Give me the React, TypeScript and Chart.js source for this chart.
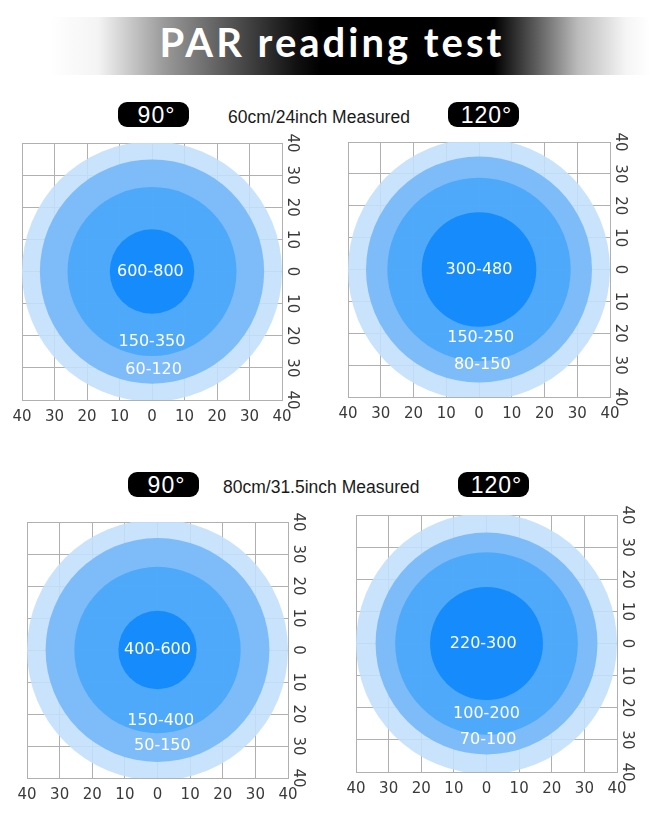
import React, { useEffect, useRef } from "react";
import { Chart, registerables } from "chart.js";
Chart.register(...registerables);

// ---------- data ----------
const axisTicks = [-40, -30, -20, -10, 0, 10, 20, 30, 40];
const xTickLabels = ["40", "30", "20", "10", "0", "10", "20", "30", "40"];
const yTickLabels = ["40", "30", "20", "10", "0", "10", "20", "30", "40"]; // bottom -> top

// ring radii (cm), outer -> inner
const rings90at60 = [40, 34.5, 26, 13];
const rings120at60 = [40, 34.5, 28, 17.5];
const rings90at80 = [40, 34.3, 25.5, 12];
const rings120at80 = [40, 34, 28, 17.3];

// PAR readings (centre, middle ring, outer ring)
const par90at60 = ["600-800", "150-350", "60-120"];
const par120at60 = ["300-480", "150-250", "80-150"];
const par90at80 = ["400-600", "150-400", "50-150"];
const par120at80 = ["220-300", "100-200", "70-100"];

// where each reading sits (cm)
const parX90at60 = [-0.5, 0, 0.5];
const parY90at60 = [0, -22, -30.5];
const parX120at60 = [0, 0.5, 1];
const parY120at60 = [0, -21.5, -30];
const parX90at80 = [0, 1, 1.5];
const parY90at80 = [0, -22, -30];
const parX120at80 = [-1, 0, 0.5];
const parY120at80 = [0, -22, -30];

// ---------- style ----------
const ringTargets = ["#c8e3fb", "#7ebcf9", "#4fa9fa", "#168bfc"];
const ringAlpha = 0.9;
const gridColor = "#b0b0b0";
const PAD = 20;
const AXIS_W = 24;
const AXIS_H = 28;

function hexToRgb(h: string) {
  const n = parseInt(h.slice(1), 16);
  return [(n >> 16) & 255, (n >> 8) & 255, n & 255];
}
function ringFills(targets: string[], alpha: number) {
  let under = [255, 255, 255];
  return targets.map((t) => {
    const c = hexToRgb(t);
    const src = c.map((v, k) =>
      Math.max(0, Math.min(255, Math.round((v - under[k] * (1 - alpha)) / alpha)))
    );
    under = c;
    return `rgba(${src.join(",")},${alpha})`;
  });
}
const fills = ringFills(ringTargets, ringAlpha);

const ringLabelPlugin = {
  id: "ringLabels",
  afterDatasetsDraw(chart: any) {
    const meta = chart.getDatasetMeta(1);
    const items = chart.data.datasets[1].data as any[];
    const ctx = chart.ctx as CanvasRenderingContext2D;
    ctx.save();
    ctx.font = '16px "DejaVu Sans"';
    ctx.fillStyle = "#ffffff";
    ctx.textAlign = "center";
    ctx.textBaseline = "middle";
    meta.data.forEach((pt: any, i: number) => {
      ctx.fillText(items[i].text, pt.x, pt.y);
    });
    ctx.restore();
  },
};

type PanelProps = {
  rings: number[];
  texts: string[];
  tx: number[];
  ty: number[];
  left: number;
  top: number;
  w: number;
  h: number;
};

function RingPanel({ rings, texts, tx, ty, left, top, w, h }: PanelProps) {
  const ref = useRef<HTMLCanvasElement>(null);
  const W = PAD + w + AXIS_W + PAD;
  const H = PAD + h + AXIS_H + PAD;
  useEffect(() => {
    const tickFont = { family: '"DejaVu Sans"', size: 15 };
    const pxRadius = (c: any) => {
      const s = c.chart.scales.x;
      return Math.abs(s.getPixelForValue(c.raw.r) - s.getPixelForValue(0));
    };
    const chart = new Chart(ref.current as HTMLCanvasElement, {
      type: "scatter",
      data: {
        datasets: [
          {
            data: rings.map((r) => ({ x: 0, y: 0, r })),
            pointRadius: pxRadius,
            pointHoverRadius: pxRadius,
            pointBackgroundColor: (c: any) => fills[c.dataIndex],
            pointBorderWidth: 0,
            pointBorderColor: "rgba(0,0,0,0)",
            clip: 0,
          } as any,
          {
            data: texts.map((t, i) => ({ x: tx[i], y: ty[i], text: t })),
            pointRadius: 0,
            pointHoverRadius: 0,
          } as any,
        ],
      },
      options: {
        animation: false,
        responsive: false,
        events: [],
        layout: { padding: PAD },
        plugins: { legend: { display: false }, tooltip: { enabled: false } },
        scales: {
          x: {
            type: "linear",
            min: -40,
            max: 40,
            afterBuildTicks: (s: any) => {
              s.ticks = axisTicks.map((value) => ({ value }));
            },
            afterFit: (s: any) => {
              s.height = AXIS_H;
            },
            ticks: {
              autoSkip: false,
              maxRotation: 0,
              padding: 8,
              color: "#3a3a3a",
              font: tickFont,
              callback: (_v: any, i: number) => xTickLabels[i],
            },
            grid: { color: gridColor, drawTicks: false, lineWidth: 1 },
            border: { color: gridColor },
          },
          y: {
            type: "linear",
            position: "right",
            min: -40,
            max: 40,
            afterBuildTicks: (s: any) => {
              s.ticks = axisTicks.map((value) => ({ value }));
            },
            afterFit: (s: any) => {
              s.width = AXIS_W;
            },
            ticks: {
              autoSkip: false,
              minRotation: -90,
              maxRotation: -90,
              crossAlign: "center",
              padding: 0,
              color: "#3a3a3a",
              font: tickFont,
              callback: (_v: any, i: number) => yTickLabels[i],
            },
            grid: { color: gridColor, drawTicks: false, lineWidth: 1 },
            border: { color: gridColor },
          },
        },
      } as any,
      plugins: [ringLabelPlugin],
    });
    return () => chart.destroy();
  }, []);
  return (
    <canvas
      ref={ref}
      width={W}
      height={H}
      style={{ position: "absolute", left: left - PAD, top: top - PAD, width: W, height: H }}
    />
  );
}

function Pill({ left, top, text }: { left: number; top: number; text: string }) {
  return (
    <div
      style={{
        position: "absolute",
        left,
        top,
        width: 71,
        height: 25,
        borderRadius: 9,
        background: "#000",
        color: "#fff",
        fontFamily: '"Liberation Sans", Arial, sans-serif',
        fontSize: 23,
        lineHeight: "27px",
        textAlign: "center",
        letterSpacing: 1,
        paddingLeft: 6,
        boxSizing: "border-box",
        overflow: "hidden",
      }}
    >
      {text}
    </div>
  );
}

function Caption({ left, top, text }: { left: number; top: number; text: string }) {
  return (
    <div
      style={{
        position: "absolute",
        left,
        top,
        whiteSpace: "nowrap",
        fontFamily: '"Liberation Sans", Arial, sans-serif',
        fontSize: 17.5,
        lineHeight: "20px",
        color: "#1a1a1a",
      }}
    >
      {text}
    </div>
  );
}

export default function App() {
  return (
    <div
      style={{
        position: "absolute",
        left: 0,
        top: 0,
        width: 671,
        height: 826,
        background: "#fff",
        overflow: "hidden",
      }}
    >
      <div
        style={{
          position: "absolute",
          left: 50,
          top: 17,
          width: 600,
          height: 58,
          background:
            "linear-gradient(to right, #fff 0%, #f4f4f4 8%, #9a9a9a 19%, #555 30%, #111 41%, #000 45%, #000 74%, #777 83%, #bbb 88%, #f5f5f5 96%, #fff 100%)",
        }}
      />
      <div
        style={{
          position: "absolute",
          left: 32,
          width: 600,
          top: 22,
          textAlign: "center",
          color: "#fff",
          fontFamily: 'Lato, "Open Sans", sans-serif',
          fontWeight: 700,
          fontSize: 40,
          lineHeight: "40px",
          letterSpacing: 3,
          whiteSpace: "nowrap",
        }}
      >
        PAR reading test
      </div>

      <Pill left={118} top={102} text="90°" />
      <Caption left={228} top={107} text="60cm/24inch Measured" />
      <Pill left={448} top={102} text="120°" />

      <Pill left={128} top={472} text="90°" />
      <Caption left={223} top={477} text="80cm/31.5inch Measured" />
      <Pill left={458} top={472} text="120°" />

      <RingPanel rings={rings90at60} texts={par90at60} tx={parX90at60} ty={parY90at60} left={22} top={143} w={260} h={257} />
      <RingPanel rings={rings120at60} texts={par120at60} tx={parX120at60} ty={parY120at60} left={348} top={142} w={262} h={255} />
      <RingPanel rings={rings90at80} texts={par90at80} tx={parX90at80} ty={parY90at80} left={27} top={522} w={261} h={256} />
      <RingPanel rings={rings120at80} texts={par120at80} tx={parX120at80} ty={parY120at80} left={356} top={515} w={261} h={257} />
    </div>
  );
}
